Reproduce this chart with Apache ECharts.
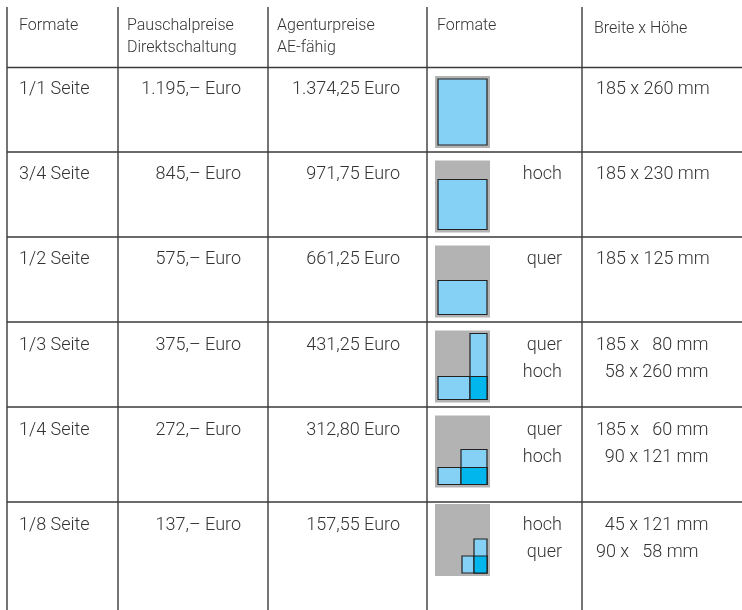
<!DOCTYPE html>
<html><head><meta charset="utf-8">
<script src="https://cdn.jsdelivr.net/npm/echarts@6/dist/echarts.min.js"></script>
<style>html,body{margin:0;padding:0;background:#fff}#c{width:742px;height:610px}</style>
</head><body><div id="c"></div>
<script>
// ---------- DATA ----------
const headers = ['Formate', 'Pauschalpreise\nDirektschaltung', 'Agenturpreise\nAE-fähig', 'Formate', 'Breite x Höhe'];
const formats = ['1/1 Seite', '3/4 Seite', '1/2 Seite', '1/3 Seite', '1/4 Seite', '1/8 Seite'];
const pauschalEuro = [1195, 845, 575, 375, 272, 137];
const agenturEuro = [1374.25, 971.75, 661.25, 431.25, 312.80, 157.55];
const orientation = [[], ['hoch'], ['quer'], ['quer', 'hoch'], ['quer', 'hoch'], ['hoch', 'quer']];
const dimensions = [
  ['185 x 260 mm'],
  ['185 x 230 mm'],
  ['185 x 125 mm'],
  ['185 x   80 mm', '  58 x 260 mm'],
  ['185 x   60 mm', '  90 x 121 mm'],
  ['  45 x 121 mm', '90 x   58 mm']
];
// drawn page-diagram rectangles as fractions [width, height] of the type area (bottom-right anchored)
const iconRects = [
  [[1, 1]],
  [[1, 0.76]],
  [[1, 0.52]],
  [[1, 0.35], [0.35, 1]],
  [[1, 0.26], [0.53, 0.53]],
  [[0.51, 0.26], [0.27, 0.52]]
];

// ---------- LAYOUT (table units = px from table origin) ----------
const colEdges = [0, 111, 261, 420, 575];
const rowEdges = [0, 60.5, 145, 230, 315, 400, 495, 603];
const tableW = 735, tableH = 603;

function fmtThousands(n) {
  return String(n).replace(/\B(?=(\d{3})+(?!\d))/g, '.');
}
function fmtPausch(v) { return fmtThousands(v) + ',– Euro'; }
function fmtAgentur(v) {
  const s = v.toFixed(2).split('.');
  return fmtThousands(Number(s[0])) + ',' + s[1] + ' Euro';
}

const FONT = 'Roboto, "Noto Sans", sans-serif';
const TXT = '#333333';

// cells: [col, row(0 = header), text]
const cells = [];
headers.forEach((h, c) => cells.push([c, 0, h]));
formats.forEach((f, i) => {
  cells.push([0, i + 1, f]);
  cells.push([1, i + 1, fmtPausch(pauschalEuro[i])]);
  cells.push([2, i + 1, fmtAgentur(agenturEuro[i])]);
  cells.push([3, i + 1, orientation[i].join('\n')]);
  cells.push([4, i + 1, dimensions[i].join('\n')]);
});

const lines = [];
colEdges.forEach(x => lines.push(['v', x]));
rowEdges.slice(1, 7).forEach(y => lines.push(['h', y]));

const chart = echarts.init(document.getElementById('c'), null, { renderer: 'canvas' });
chart.setOption({
  animation: false,
  grid: { left: 7, top: 7, right: 0, bottom: 0 },
  xAxis: { type: 'value', min: 0, max: tableW, show: false },
  yAxis: { type: 'value', min: 0, max: tableH, inverse: true, show: false },
  series: [
    {
      type: 'custom',
      data: lines,
      renderItem: function (params, api) {
        const kind = lines[params.dataIndex][0];
        const v = lines[params.dataIndex][1];
        let p1, p2;
        if (kind === 'v') { p1 = api.coord([v, 0]); p2 = api.coord([v, tableH]); }
        else { p1 = api.coord([0, v]); p2 = api.coord([tableW, v]); }
        return {
          type: 'line',
          shape: { x1: p1[0], y1: p1[1], x2: p2[0], y2: p2[1] },
          style: { stroke: '#3a3a3a', lineWidth: 1.4 }
        };
      }
    },
    {
      type: 'custom',
      data: formats.map((f, i) => i),
      z: 3,
      renderItem: function (params, api) {
        const i = params.dataIndex;
        const topOff = i === 5 ? 2 : 8.5;
        const g0 = api.coord([colEdges[3] + 8, rowEdges[i + 1] + topOff]);
        const gw = 55, gh = 72;
        const children = [{
          type: 'rect', shape: { x: g0[0], y: g0[1], width: gw, height: gh },
          style: { fill: '#b3b3b3' }
        }];
        const inX = g0[0] + 3, inY = g0[1] + 3, inW = gw - 6, inH = gh - 6;
        const rects = iconRects[i].map(r => {
          const w = Math.round(r[0] * inW), h = Math.round(r[1] * inH);
          return { x: inX + inW - w, y: inY + inH - h, w: w, h: h };
        });
        rects.forEach(r => children.push({
          type: 'rect', shape: { x: r.x, y: r.y, width: r.w, height: r.h },
          style: { fill: '#85d0f5', stroke: '#222', lineWidth: 1.2 }
        }));
        if (rects.length === 2) {
          const a = rects[0], b = rects[1];
          const x = Math.max(a.x, b.x), y = Math.max(a.y, b.y);
          const x2 = Math.min(a.x + a.w, b.x + b.w), y2 = Math.min(a.y + a.h, b.y + b.h);
          children.push({
            type: 'rect', shape: { x: x, y: y, width: x2 - x, height: y2 - y },
            style: { fill: '#00b6ec', stroke: '#222', lineWidth: 1.2 }
          });
        }
        return { type: 'group', children: children };
      }
    },
    {
      type: 'custom',
      data: cells.map((c, i) => i),
      z: 4,
      renderItem: function (params, api) {
        const c = cells[params.dataIndex];
        const col = c[0], row = c[1], text = c[2];
        let x, y, align = 'left', size = 18, lh = 26.5;
        if (row === 0) {
          size = 16; lh = 22;
          const hx = [12, 9, 9, 10, 12];
          x = colEdges[col] + hx[col];
          y = col === 4 ? 22 : 19;
        } else {
          y = rowEdges[row] + (row >= 4 ? 23.5 : 22);
          if (col === 0) x = colEdges[0] + 12;
          else if (col === 1) { x = colEdges[2] - 27; align = 'right'; }
          else if (col === 2) { x = colEdges[3] - 27; align = 'right'; }
          else if (col === 3) { x = colEdges[4] - 20; align = 'right'; }
          else x = colEdges[4] + 14;
        }
        const p = api.coord([x, y]);
        return {
          type: 'text',
          style: {
            text: text, x: p[0], y: p[1] - lh / 2, align: align, verticalAlign: 'top',
            font: '300 ' + size + 'px ' + FONT, lineHeight: lh, fill: TXT
          }
        };
      }
    }
  ]
});
</script></body></html>
